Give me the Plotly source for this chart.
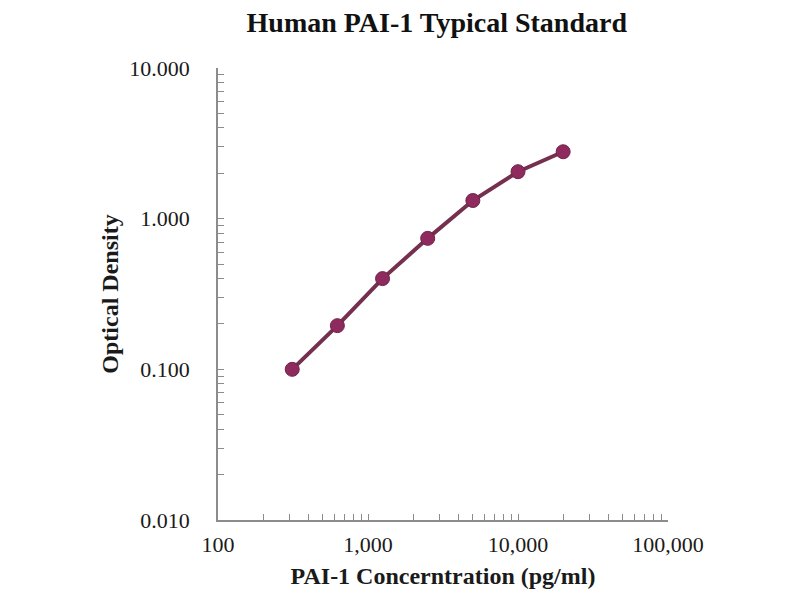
import plotly.graph_objects as go

# standard curve
concentration = [312.5, 625, 1250, 2500, 5000, 10000, 20000]
optical_density = [0.100, 0.195, 0.400, 0.740, 1.32, 2.05, 2.78]

x_ticks = [m * 10 ** e for e in range(2, 5) for m in range(1, 10)] + [100000]
x_labels = [f'{v:,}' if m == 1 else '' for v, m in
            zip(x_ticks, [m for e in range(2, 5) for m in range(1, 10)] + [1])]

y_ticks = [m * 10 ** e for e in range(-2, 1) for m in range(1, 10)] + [10]
y_labels = [f'{v:.3f}' if m == 1 else '' for v, m in
            zip(y_ticks, [m for e in range(-2, 1) for m in range(1, 10)] + [1])]

font = 'Liberation Serif, Times New Roman, serif'

fig = go.Figure()
fig.add_trace(go.Scatter(
    x=concentration,
    y=optical_density,
    mode='lines+markers',
    line=dict(color='#75304F', width=4),
    marker=dict(color='#8E2A5E', size=14, line=dict(color='#6E2448', width=1)),
    showlegend=False,
))

axis_style = dict(
    showgrid=False,
    zeroline=False,
    showline=True,
    linecolor='#8c8c8c',
    linewidth=1.5,
    ticks='inside',
    ticklen=6,
    tickcolor='#8c8c8c',
    tickfont=dict(family=font, size=22, color='#1a1a1a'),
    automargin=False,
)

fig.update_xaxes(
    type='log',
    range=[2, 5],
    tickvals=x_ticks,
    ticktext=x_labels,
    ticklabelstandoff=4,
    title=dict(text='<b>PAI-1 Concerntration (pg/ml)</b>',
               font=dict(family=font, size=24, color='#1a1a1a'), standoff=11),
    **axis_style,
)
fig.update_yaxes(
    type='log',
    range=[-2, 1],
    tickvals=y_ticks,
    ticktext=y_labels,
    ticklabelstandoff=22,
    title=dict(text='<b>Optical Density</b>',
               font=dict(family=font, size=24, color='#1a1a1a'), standoff=4),
    **axis_style,
)

fig.update_layout(
    width=800,
    height=600,
    title=dict(text='<b>Human PAI-1 Typical Standard</b>', x=0.536, xanchor='center',
               y=0.977, yanchor='middle',
               font=dict(family=font, size=28, color='#111111')),
    paper_bgcolor='white',
    plot_bgcolor='white',
    margin=dict(l=210, r=140, t=60, b=88),
)

fig.write_html('out.html')
